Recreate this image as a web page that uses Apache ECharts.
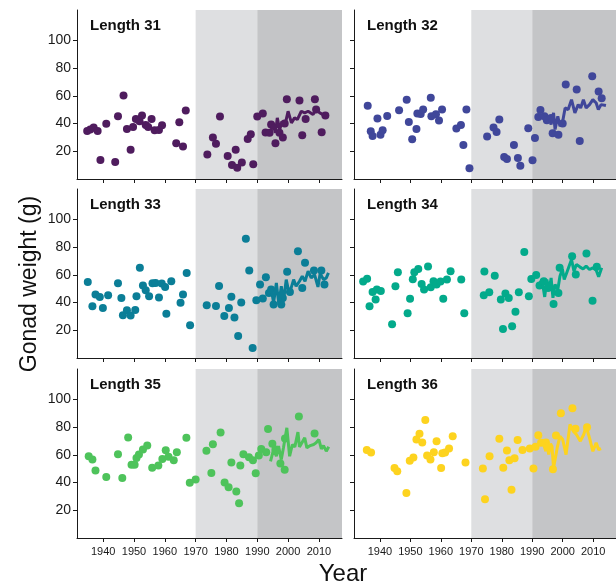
<!DOCTYPE html>
<html lang="en">
<head>
<meta charset="UTF-8" />
<title>Gonad weight by length</title>
<script src="https://cdn.jsdelivr.net/npm/echarts@6/dist/echarts.min.js"></script>
</head>
<body style="margin:0; background:#fff;">
<div id="chart" style="width:616px; height:586px;"></div>
<script>
// panel labels and colours (viridis-like)
const lengths = ['Length 31', 'Length 32', 'Length 33', 'Length 34', 'Length 35', 'Length 36'];
const colors = ['#4f1c5e', '#40479a', '#0b7e97', '#03aa8b', '#4ec35b', '#fdd31f'];
const yearTicks = [1940, 1950, 1960, 1970, 1980, 1990, 2000, 2010];
const weightTicks = [20, 40, 60, 80, 100];

// [year, gonad weight]
const pts31 = [[1934.8,34.7],[1935.8,35.7],[1936.9,37.1],[1938.2,34.7],[1939.1,13.7],[1941.0,39.8],[1943.9,12.3],[1944.8,45.3],[1946.6,60.2],[1947.7,36.1],[1948.9,21.2],[1949.7,37.6],[1950.6,43.4],[1951.8,41.7],[1952.6,45.8],[1953.8,39.0],[1954.6,37.6],[1955.7,43.4],[1956.7,35.2],[1958.1,35.4],[1959.1,38.8],[1963.7,25.8],[1964.7,41.0],[1965.9,23.4],[1966.8,49.4],[1973.8,17.6],[1975.6,29.9],[1976.6,25.5],[1977.9,45.1],[1980.4,16.6],[1981.8,10.1],[1983.0,21.2],[1983.5,8.2],[1985.0,12.0],[1986.9,28.9],[1987.9,32.3],[1988.7,10.6],[1990.0,45.1],[1991.8,47.2],[1992.7,33.5],[1994.0,33.3],[1994.5,39.3],[1995.9,25.8],[1997.2,33.3],[1998.3,29.9],[1998.9,40.0],[1999.6,57.6],[2003.7,56.6],[2004.6,31.6],[2005.7,43.4],[2008.7,57.6],[2009.1,50.1],[2010.9,33.7],[2012.1,45.8]];
const trend31 = [[1994.0,32.0],[1995.1,39.3],[1995.9,33.3],[1996.5,44.1],[1997.3,35.6],[1998.0,41.6],[1998.9,38.0],[2000.0,48.9],[2001.1,40.5],[2002.1,44.1],[2003.0,42.9],[2004.3,48.9],[2005.4,47.7],[2006.5,48.9],[2008.1,46.5],[2009.2,50.6],[2010.3,47.7],[2011.9,45.8]];

const pts32 = [[1936.0,52.8],[1937.0,34.5],[1937.6,31.1],[1939.2,43.6],[1940.2,32.0],[1940.9,35.2],[1942.4,45.5],[1946.3,49.6],[1948.8,57.3],[1949.5,41.2],[1950.6,28.7],[1952.0,36.1],[1952.3,47.2],[1953.4,47.0],[1954.2,50.1],[1956.7,58.6],[1956.9,45.3],[1958.4,46.7],[1959.4,42.2],[1960.4,50.1],[1965.1,36.4],[1966.6,39.0],[1967.4,24.6],[1968.4,50.1],[1969.4,7.7],[1975.2,30.6],[1977.3,37.1],[1978.3,34.0],[1979.2,42.9],[1980.8,15.9],[1981.7,14.5],[1984.0,24.6],[1985.3,15.2],[1986.1,9.6],[1988.7,36.6],[1990.1,13.5],[1990.9,29.6],[1992.0,44.8],[1992.7,49.9],[1994.0,45.3],[1994.8,42.4],[1996.2,44.1],[1996.7,33.0],[1998.6,32.0],[2000.0,40.0],[2001.0,68.2],[2004.6,64.6],[2005.6,27.5],[2009.7,74.2],[2011.8,63.1],[2012.8,58.3]];
const trend32 = [[1992.7,46.5],[1993.8,44.1],[1994.5,42.4],[1995.4,45.8],[1996.2,39.3],[1997.0,47.7],[1997.5,35.7],[1998.4,45.3],[1999.1,38.1],[1999.9,40.5],[2000.8,51.3],[2001.8,50.1],[2002.9,57.3],[2004.0,47.7],[2005.1,53.7],[2005.9,51.3],[2006.8,57.3],[2007.7,51.3],[2008.8,53.7],[2009.9,57.3],[2011.0,54.9],[2011.7,50.1],[2012.6,53.7],[2014.2,53.0]];

const pts33 = [[1935.0,54.9],[1936.5,37.3],[1937.5,45.8],[1938.9,44.1],[1939.9,36.1],[1941.6,45.3],[1944.8,54.0],[1945.9,43.4],[1946.4,30.8],[1947.7,34.5],[1948.9,30.6],[1950.4,34.7],[1950.8,44.6],[1951.9,65.1],[1952.9,52.3],[1953.8,48.9],[1954.9,44.6],[1956.0,54.0],[1957.0,54.2],[1958.1,43.6],[1959.0,53.7],[1960.1,51.3],[1960.5,32.0],[1962.1,55.4],[1965.1,39.8],[1965.9,45.8],[1967.1,61.4],[1968.2,23.6],[1973.6,38.1],[1976.6,37.6],[1977.6,52.0],[1979.3,30.4],[1980.8,36.1],[1981.6,44.3],[1982.6,29.2],[1983.8,15.9],[1984.8,40.0],[1986.3,86.0],[1987.4,63.1],[1988.5,7.2],[1989.7,41.7],[1990.9,53.0],[1991.8,42.9],[1992.8,58.3],[1993.8,47.0],[1994.5,49.4],[1995.3,38.6],[1997.8,38.6],[1998.3,43.4],[1999.7,62.2],[2000.6,47.7],[2003.2,77.1],[2004.6,50.6],[2005.5,68.7],[2008.4,63.1],[2010.8,63.1],[2011.8,53.0]];
const trend33 = [[1993.5,45.8],[1994.5,50.6],[1995.3,39.8],[1996.2,54.2],[1997.0,38.6],[1997.8,51.8],[1998.5,41.0],[1999.4,56.6],[2000.3,47.0],[2001.0,50.6],[2001.8,56.6],[2002.6,51.8],[2003.7,55.4],[2004.6,59.0],[2005.5,55.4],[2006.5,62.7],[2007.5,57.8],[2008.6,60.2],[2009.7,51.3],[2010.4,61.0],[2011.5,56.6],[2012.4,57.8],[2013.1,61.4]];

const pts34 = [[1934.5,55.2],[1935.8,57.3],[1936.6,37.3],[1937.6,47.7],[1938.6,42.2],[1939.0,49.4],[1940.3,48.4],[1944.0,24.3],[1945.1,51.8],[1945.9,61.9],[1949.1,32.3],[1949.9,42.7],[1950.8,56.9],[1951.3,61.9],[1952.6,64.3],[1953.7,53.5],[1954.5,49.4],[1955.8,66.0],[1956.7,51.1],[1957.6,55.4],[1958.6,53.0],[1959.9,55.2],[1960.8,42.7],[1962.0,56.6],[1963.2,62.7],[1966.7,56.6],[1967.7,32.3],[1974.1,45.3],[1974.3,62.4],[1975.9,47.5],[1977.7,59.3],[1979.7,42.2],[1980.4,21.0],[1981.2,46.5],[1982.3,43.4],[1983.4,22.9],[1984.5,33.3],[1985.6,47.5],[1987.4,76.6],[1988.9,44.6],[1989.7,57.1],[1991.3,60.0],[1992.4,52.3],[1993.8,55.4],[1995.2,50.6],[1997.0,39.0],[1998.6,47.0],[1999.0,65.1],[2003.1,73.5],[2004.3,60.2],[2007.8,75.4],[2009.8,41.4],[2011.2,65.8]];
const trend34 = [[1992.2,53.0],[1993.2,56.6],[1994.1,44.1],[1994.8,56.6],[1995.6,49.4],[1996.2,57.8],[1996.8,43.4],[1997.5,53.0],[1998.4,49.4],[1999.1,59.0],[1999.9,64.3],[2000.5,56.6],[2001.3,61.4],[2002.3,67.5],[2002.9,71.1],[2003.7,62.7],[2004.5,67.5],[2005.6,65.8],[2006.7,64.3],[2007.7,66.3],[2008.8,63.9],[2009.9,65.1],[2011.0,63.4],[2011.8,58.6],[2012.8,65.1]];

const pts35 = [[1935.3,59.0],[1936.5,56.6],[1937.5,48.7],[1941.0,44.1],[1944.8,60.5],[1946.2,43.4],[1948.1,72.5],[1949.2,52.8],[1950.2,52.8],[1950.8,57.8],[1951.6,60.2],[1952.9,63.9],[1954.3,66.7],[1955.9,50.8],[1957.9,52.3],[1959.2,57.1],[1960.3,63.4],[1961.2,58.6],[1962.9,56.1],[1963.9,61.9],[1967.0,72.3],[1968.1,39.8],[1970.0,42.2],[1973.5,62.9],[1975.1,47.0],[1975.6,67.7],[1978.1,76.1],[1979.4,40.0],[1980.7,36.6],[1981.6,54.5],[1983.2,33.5],[1984.1,25.1],[1984.5,52.3],[1985.5,60.5],[1987.3,58.3],[1988.6,56.1],[1989.5,46.7],[1990.5,59.5],[1991.3,64.3],[1992.9,61.9],[1993.5,78.6],[1994.9,68.0],[1995.9,63.9],[1997.5,53.7],[1998.9,49.2],[1999.0,71.8],[2003.5,87.7],[2008.6,75.4]];
const trend35 = [[1994.3,55.4],[1995.3,63.9],[1996.2,59.0],[1996.9,66.3],[1997.8,56.6],[1998.5,65.1],[1999.6,79.5],[2000.5,59.0],[2001.4,67.5],[2002.2,65.8],[2003.2,76.4],[2003.7,65.8],[2004.5,68.7],[2005.4,72.3],[2006.1,65.1],[2007.2,66.7],[2008.3,67.5],[2009.1,68.7],[2010.0,71.1],[2010.8,64.3],[2011.5,66.7],[2012.4,62.7],[2013.2,65.8]];

const pts36 = [[1935.7,63.6],[1937.1,61.7],[1944.8,50.6],[1945.7,48.2],[1948.7,32.5],[1949.8,55.7],[1951.0,58.1],[1952.0,71.1],[1953.0,75.2],[1953.9,68.9],[1954.9,85.1],[1955.5,59.5],[1956.6,56.6],[1957.7,61.9],[1958.6,69.9],[1960.1,50.6],[1960.5,61.2],[1961.4,61.7],[1962.7,64.6],[1963.9,73.5],[1968.1,54.5],[1973.8,50.1],[1974.5,28.0],[1976.0,59.0],[1979.2,71.6],[1980.5,50.8],[1981.7,63.1],[1982.5,56.1],[1983.2,34.9],[1984.2,57.6],[1985.2,70.8],[1986.8,63.6],[1989.2,64.6],[1990.4,50.1],[1991.1,65.8],[1992.0,74.2],[1992.9,68.7],[1994.5,69.0],[1996.8,49.6],[1997.8,74.0],[1999.4,90.1],[2003.2,93.7],[2004.2,78.8],[2008.0,80.0]];
const trend36 = [[1991.0,65.8],[1992.2,67.5],[1993.0,68.5],[1993.8,67.0],[1994.5,62.7],[1994.8,68.7],[1995.4,60.2],[1996.0,68.0],[1996.5,66.0],[1997.0,50.6],[1998.3,66.2],[1999.1,73.5],[2000.0,71.1],[2001.1,60.2],[2002.4,81.9],[2003.5,77.1],[2004.5,74.7],[2005.8,69.9],[2006.9,74.7],[2007.7,80.7],[2008.8,72.3],[2009.9,62.6],[2011.0,68.7],[2011.8,63.8],[2012.6,64.5]];

const panels = [[pts31, trend31], [pts32, trend32], [pts33, trend33], [pts34, trend34], [pts35, trend35], [pts36, trend36]];

const chart = echarts.init(document.getElementById('chart'));
const font = 'Liberation Sans';
const ink = '#1a1a1a';
const colLeft = [77, 354];
const colWidth = [265, 266];
const rowTop = [10, 189, 369];

let grid = [], xAxis = [], yAxis = [], series = [], title = [];
panels.forEach((p, i) => {
  let row = Math.floor(i / 2), col = i % 2;
  grid.push({ left: colLeft[col], top: rowTop[row], width: colWidth[col], height: 169 });
  xAxis.push({
    gridIndex: i, type: 'value', min: 1931.5, max: 2017.5, z: 10,
    axisLine: { show: true, onZero: false, lineStyle: { color: ink, width: 1 } },
    axisTick: { show: true, customValues: yearTicks, length: 4, lineStyle: { color: ink } },
    axisLabel: { show: row === 2, customValues: yearTicks, formatter: v => String(v), fontSize: 11, color: ink, margin: 8, fontFamily: font },
    splitLine: { show: false }
  });
  yAxis.push({
    gridIndex: i, type: 'value', min: 0, max: 122, z: 10,
    axisLine: { show: true, onZero: false, lineStyle: { color: ink, width: 1 } },
    axisTick: { show: true, customValues: weightTicks, length: 4, lineStyle: { color: ink } },
    axisLabel: { show: col === 0, customValues: weightTicks, fontSize: 14, color: ink, margin: 6, fontFamily: font },
    splitLine: { show: false }
  });
  title.push({
    text: lengths[i], left: colLeft[col] + 8, top: rowTop[row] + 3,
    textStyle: { fontSize: 15, fontWeight: 'bold', color: '#111', fontFamily: font }
  });
  // shaded periods
  series.push({
    type: 'line', xAxisIndex: i, yAxisIndex: i, data: [], z: 1, silent: true,
    markArea: {
      silent: true,
      data: [
        [{ xAxis: 1970, itemStyle: { color: '#dedfe1' } }, { xAxis: 1990 }],
        [{ xAxis: 1990, itemStyle: { color: '#c4c5c7' } }, { xAxis: 2017.5 }]
      ]
    }
  });
  series.push({
    type: 'scatter', xAxisIndex: i, yAxisIndex: i, data: p[0], z: 3,
    symbolSize: 8, itemStyle: { color: colors[i], opacity: 1 }
  });
  series.push({
    type: 'line', xAxisIndex: i, yAxisIndex: i, data: p[1], z: 4,
    symbol: 'none', lineStyle: { color: colors[i], width: 3 }
  });
});

chart.setOption({
  animation: false,
  backgroundColor: '#fff',
  title, grid, xAxis, yAxis, series,
  graphic: [
    { type: 'text', x: 30, y: 284, rotation: Math.PI / 2,
      style: { text: 'Gonad weight (g)', font: '23px "Liberation Sans"', fill: '#111', textAlign: 'center', textVerticalAlign: 'middle' } },
    { type: 'text', x: 343, y: 574,
      style: { text: 'Year', font: '24px "Liberation Sans"', fill: '#111', textAlign: 'center', textVerticalAlign: 'middle' } }
  ]
});
</script>
</body>
</html>
